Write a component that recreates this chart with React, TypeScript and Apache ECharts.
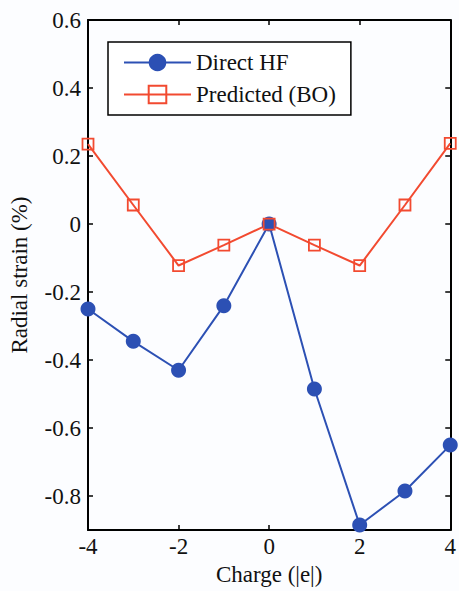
import React, { useEffect, useRef } from "react";
import * as echarts from "echarts";

const charges = [-4, -3, -2, -1, 0, 1, 2, 3, 4];
const directHF = [-0.25, -0.345, -0.43, -0.24, 0, -0.485, -0.885, -0.785, -0.65];
const predictedBO = [0.235, 0.056, -0.122, -0.062, 0, -0.062, -0.122, 0.056, 0.237];
const xTicks = [-4, -2, 0, 2, 4];
const yTicks = [-0.8, -0.6, -0.4, -0.2, 0, 0.2, 0.4, 0.6];

const FONT = "Liberation Serif";
const FS = 23;

export default function App() {
  const ref = useRef<HTMLDivElement>(null);
  useEffect(() => {
    const chart = echarts.init(ref.current!, null, { renderer: "svg" });
    const axisLine = { show: true, onZero: false, lineStyle: { color: "#000", width: 2 } };
    const tick = (vals: number[]) => ({
      show: true,
      inside: true,
      length: 5,
      customValues: vals,
      lineStyle: { color: "#000", width: 1.5 },
    });
    chart.setOption({
      animation: false,
      backgroundColor: "#fcfdff",
      textStyle: { fontFamily: FONT },
      grid: { left: 85, top: 20, right: 7, bottom: 59 },
      legend: {
        orient: "vertical",
        left: 108,
        top: 42,
        padding: [9, 15, 9, 15],
        itemWidth: 67,
        itemHeight: 22,
        itemGap: 9,
        borderColor: "#000",
        borderWidth: 1.5,
        backgroundColor: "#fff",
        textStyle: { fontFamily: FONT, fontSize: FS, color: "#111" },
        data: ["Direct HF", "Predicted (BO)"],
      },
      xAxis: [
        {
          type: "value",
          min: -4,
          max: 4,
          name: "Charge (|e|)",
          nameLocation: "middle",
          nameGap: 9,
          nameTextStyle: { fontFamily: FONT, fontSize: FS, color: "#111" },
          axisLine,
          axisTick: tick(xTicks),
          axisLabel: { customValues: xTicks, fontFamily: FONT, fontSize: FS, color: "#111", margin: 5 },
          splitLine: { show: false },
        },
        {
          type: "value",
          position: "top",
          min: -4,
          max: 4,
          axisLine,
          axisTick: tick(xTicks),
          axisLabel: { show: false },
          splitLine: { show: false },
        },
      ],
      yAxis: [
        {
          type: "value",
          min: -0.9,
          max: 0.6,
          name: "Radial strain (%)",
          nameLocation: "middle",
          nameGap: 57,
          nameTextStyle: { fontFamily: FONT, fontSize: FS, color: "#111" },
          axisLine,
          axisTick: tick(yTicks),
          axisLabel: {
            customValues: yTicks,
            fontFamily: FONT,
            fontSize: FS,
            color: "#111",
            margin: 7,
            formatter: (v: number) => (Math.abs(v) < 1e-9 ? "0" : String(Math.round(v * 10) / 10)),
          },
          splitLine: { show: false },
        },
        {
          type: "value",
          position: "right",
          min: -0.9,
          max: 0.6,
          axisLine,
          axisTick: tick(yTicks),
          axisLabel: { show: false },
          splitLine: { show: false },
        },
      ],
      series: [
        {
          name: "Direct HF",
          type: "line",
          data: charges.map((c, i) => [c, directHF[i]]),
          symbol: "circle",
          symbolSize: 15,
          lineStyle: { color: "#2c50b4", width: 2 },
          itemStyle: { color: "#2c50b4" },
        },
        {
          name: "Predicted (BO)",
          type: "line",
          data: charges.map((c, i) => [c, predictedBO[i]]),
          symbol: "rect",
          symbolSize: 11,
          lineStyle: { color: "#f24a30", width: 2 },
          itemStyle: { color: "rgba(255,255,255,0)", borderColor: "#f24a30", borderWidth: 1.8 },
        },
      ],
    });
    return () => chart.dispose();
  }, []);
  return (
    <div style={{ position: "absolute", left: 0, top: 0 }}>
      <div ref={ref} style={{ width: 459, height: 591 }} />
    </div>
  );
}
